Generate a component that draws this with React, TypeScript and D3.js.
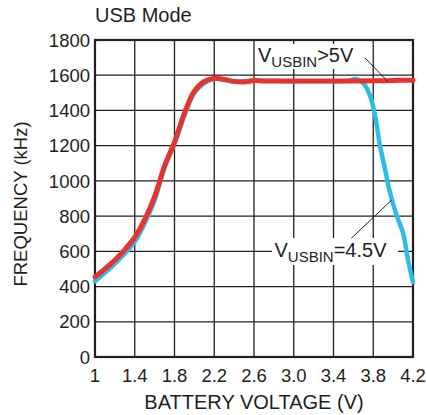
import React from "react";
import * as d3 from "d3";

const xTicks = [1, 1.4, 1.8, 2.2, 2.6, 3.0, 3.4, 3.8, 4.2];
const xTickLabels = ["1", "1.4", "1.8", "2.2", "2.6", "3.0", "3.4", "3.8", "4.2"];
const yTicks = [0, 200, 400, 600, 800, 1000, 1200, 1400, 1600, 1800];

const redV = [1.0, 1.1, 1.2, 1.3, 1.4, 1.5, 1.6, 1.7, 1.8, 1.9, 2.0, 2.1, 2.2, 2.3, 2.4, 2.5, 2.6, 2.7, 3.0, 3.4, 3.6, 3.8, 4.0, 4.2];
const redF = [455, 500, 550, 610, 680, 780, 910, 1085, 1220, 1385, 1510, 1565, 1583, 1576, 1565, 1562, 1570, 1567, 1567, 1567, 1567, 1568, 1570, 1572];

const blueV = [1.0, 1.2, 1.4, 1.5, 1.6, 1.7, 1.8, 1.9, 2.0, 2.1, 2.2, 2.4, 2.6, 3.0, 3.4, 3.55, 3.62, 3.7, 3.77, 3.82, 3.87, 3.92, 3.97, 4.04, 4.1, 4.15, 4.2];
const blueF = [430, 530, 655, 760, 890, 1075, 1210, 1370, 1500, 1555, 1580, 1565, 1568, 1566, 1566, 1568, 1578, 1555, 1480, 1365, 1194, 1062, 930, 797, 704, 551, 425];

const W = 426, H = 415;
const left = 95, right = 413, top = 40, bottom = 357;
const FONT = "'Liberation Sans', Arial, Helvetica, sans-serif";

export default function App() {
  const x = d3.scaleLinear().domain([1, 4.2]).range([left, right]);
  const y = d3.scaleLinear().domain([0, 1800]).range([bottom, top]);
  const line = d3.line<[number, number]>()
    .x(d => x(d[0]))
    .y(d => y(d[1]))
    .curve(d3.curveCatmullRom.alpha(0.5));
  const red = line(redV.map((v, i) => [v, redF[i]]) as [number, number][]) || "";
  const blue = line(blueV.map((v, i) => [v, blueF[i]]) as [number, number][]) || "";
  const grid = "#231f20";
  return (
    <svg width={W} height={H} style={{ position: "absolute", left: 0, top: 0, background: "#fff" }} fontFamily={FONT}>
      <rect x={0} y={0} width={W} height={H} fill="#fff" />
      {xTicks.map(t => (
        <line key={"gx" + t} x1={x(t)} x2={x(t)} y1={top} y2={bottom} stroke={grid} strokeWidth={1.3} />
      ))}
      {yTicks.map(t => (
        <line key={"gy" + t} x1={left} x2={right} y1={y(t)} y2={y(t)} stroke={grid} strokeWidth={1.3} />
      ))}
      <rect x={left} y={top} width={right - left} height={bottom - top} fill="none" stroke="#231f20" strokeWidth={2.2} />
      {/* annotation backgrounds */}
      <rect x={255} y={44} width={114} height={25} fill="#fff" />
      <rect x={272} y={238} width={126} height={27} fill="#fff" />
      <path d={blue} fill="none" stroke="#2bbde8" strokeWidth={4.5} strokeLinejoin="round" strokeLinecap="round" />
      <path d={red} fill="none" stroke="#e8322e" strokeWidth={5} strokeLinejoin="round" strokeLinecap="round" />
      <line x1={365} y1={58} x2={388} y2={81.7} stroke="#231f20" strokeWidth={1} />
      <line x1={351.3} y1={238.3} x2={391.7} y2={200} stroke="#231f20" strokeWidth={1} />
      <text x={258} y={62} fontSize={20} fill="#231f20">
        V<tspan fontSize={15} dy={5}>USBIN</tspan><tspan dy={-5}>&gt;5V</tspan>
      </text>
      <text x={274.5} y={257} fontSize={20} fill="#231f20">
        V<tspan fontSize={15} dy={5}>USBIN</tspan><tspan dy={-5}>=4.5V</tspan>
      </text>
      {yTicks.map(t => (
        <text key={"ly" + t} x={90} y={y(t)} dy="0.36em" textAnchor="end" fontSize={18.5} fill="#231f20">{t}</text>
      ))}
      {xTicks.map((t, i) => (
        <text key={"lx" + t} x={x(t)} y={381.5} textAnchor="middle" fontSize={18.5} fill="#231f20">{xTickLabels[i]}</text>
      ))}
      <text x={254} y={408.5} textAnchor="middle" fontSize={20} fill="#231f20">BATTERY VOLTAGE (V)</text>
      <text transform={`translate(26.5,204) rotate(-90)`} textAnchor="middle" fontSize={18.5} fill="#231f20">FREQUENCY (kHz)</text>
      <text x={95} y={22} fontSize={20} fill="#231f20">USB Mode</text>
    </svg>
  );
}
